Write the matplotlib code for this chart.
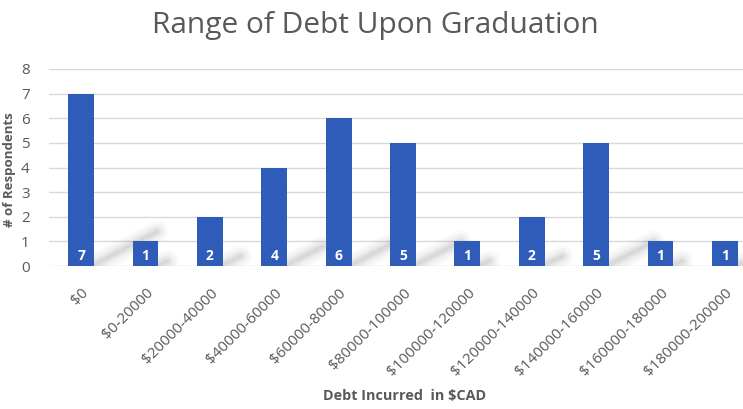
import numpy as np
import matplotlib.pyplot as plt

# Debt ranges and number of respondents in each
ranges = ['$0', '$0-20000', '$20000-40000', '$40000-60000', '$60000-80000',
          '$80000-100000', '$100000-120000', '$120000-140000', '$140000-160000',
          '$160000-180000', '$180000-200000']
respondents = [7, 1, 2, 4, 6, 5, 1, 2, 5, 1, 1]

plt.rcParams['font.family'] = ['Open Sans', 'DejaVu Sans']
grey = '#595959'
bar_color = '#2F5CB8'
bar_width = 0.40

fig = plt.figure(figsize=(7.43, 4.09), dpi=100)
ax = fig.add_axes([49 / 743, 143 / 409, 708 / 743, 197 / 409])

x = np.arange(len(ranges))

# soft diagonal shadows cast from the foot of each bar
for xi, v in zip(x, respondents):
    x0 = xi + bar_width / 2
    x1 = x0 + 0.14 * v
    y1 = 0.2 * v
    for lw, a in [(16, 0.025), (12, 0.035), (8, 0.045), (5, 0.055), (2, 0.06)]:
        ax.plot([x0, x1], [0.05, y1], color='#404040', lw=lw, alpha=a,
                solid_capstyle='round', zorder=1)

ax.bar(x, respondents, width=bar_width, color=bar_color, zorder=3)

for xi, v in zip(x, respondents):
    ax.text(xi, 0.42, str(v), ha='center', va='center', color='white',
            fontsize=10, fontweight='bold', zorder=4)

ax.set_xlim(-0.5, 10.5)
ax.set_ylim(0, 8)
ax.set_yticks(range(0, 9))
ax.set_xticks(x)
ax.set_xticklabels(ranges, rotation=45, ha='right', va='top',
                   rotation_mode='anchor', fontsize=11, color=grey)
ax.tick_params(axis='y', labelsize=11, labelcolor=grey, length=0, pad=14)
ax.tick_params(axis='x', length=0, pad=14)
ax.grid(axis='y', color='#D9D9D9', linewidth=1, zorder=0)
ax.set_axisbelow(True)
for s in ax.spines.values():
    s.set_visible(False)

fig.text(375 / 743, 1 - 26 / 409, 'Range of Debt Upon Graduation', ha='center',
         va='center', fontsize=21.5, color=grey)
fig.text(10 / 743, 1 - 170 / 409, '# of Respondents', rotation=90, ha='center',
         va='center', fontsize=9.5, fontweight='bold', color=grey)
fig.text(405 / 743, 1 - 396 / 409, 'Debt Incurred  in $CAD', ha='center',
         va='center', fontsize=10.4, fontweight='bold', color=grey)

fig.savefig('out.png', dpi=100)
